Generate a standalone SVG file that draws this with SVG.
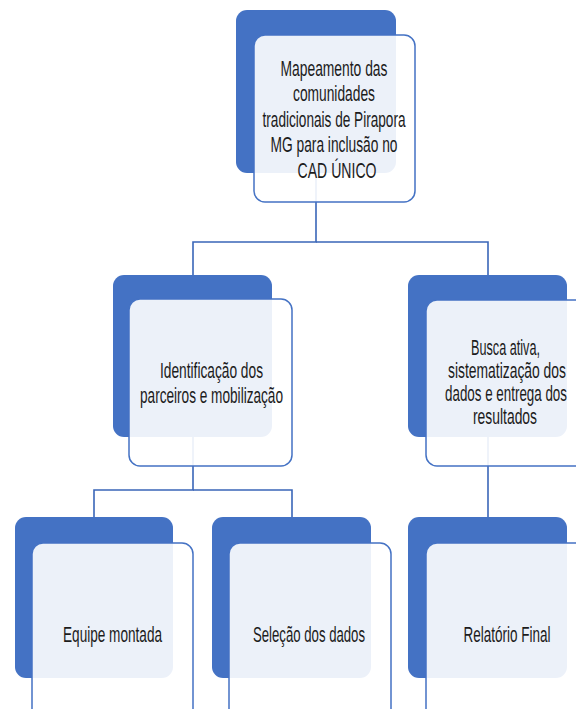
<svg xmlns="http://www.w3.org/2000/svg" width="576" height="709" viewBox="0 0 576 709">
<style>
.back{fill:#4472C4;}
.front{fill:#FFFFFF;fill-opacity:0.9;stroke:#4472C4;stroke-width:1.5;}
.conn{fill:none;stroke:#3A66B8;stroke-width:1.6;}
.t{font-family:"Liberation Sans",Arial,sans-serif;font-size:22px;fill:#1C1C1C;text-anchor:middle;}
</style>
<rect width="576" height="709" fill="#FFFFFF"/>
<g id="connectors">
<path class="conn" d="M316,173 V242 H193 V275"/>
<path class="conn" d="M316,242 H488 V275"/>
<path class="conn" d="M193,437 V490 H94 V517"/>
<path class="conn" d="M193,490 H292 V517"/>
<path class="conn" d="M488,437 V517"/>
</g>
<g id="n1">
<rect class="back" x="236" y="10" width="160" height="163" rx="11"/>
<rect class="front" x="254" y="35" width="161" height="167" rx="11"/>
<text class="t" x="334" y="76" textLength="107" lengthAdjust="spacingAndGlyphs">Mapeamento das</text>
<text class="t" x="334" y="101" textLength="82" lengthAdjust="spacingAndGlyphs">comunidades</text>
<text class="t" x="334" y="127" textLength="143" lengthAdjust="spacingAndGlyphs">tradicionais de Pirapora</text>
<text class="t" x="334" y="152" textLength="127" lengthAdjust="spacingAndGlyphs">MG para inclusão no</text>
<text class="t" x="337" y="178" textLength="79" lengthAdjust="spacingAndGlyphs">CAD ÚNICO</text>
</g>
<g id="n2">
<rect class="back" x="113" y="275" width="159" height="162" rx="11"/>
<rect class="front" x="129" y="299" width="163" height="167" rx="11"/>
<text class="t" x="211.5" y="378" textLength="103" lengthAdjust="spacingAndGlyphs">Identificação dos</text>
<text class="t" x="211.5" y="403" textLength="143" lengthAdjust="spacingAndGlyphs">parceiros e mobilização</text>
</g>
<g id="n3">
<rect class="back" x="408" y="275" width="159" height="162" rx="11"/>
<rect class="front" x="426" y="300" width="163" height="166" rx="11"/>
<text class="t" x="505.5" y="355" textLength="69" lengthAdjust="spacingAndGlyphs">Busca ativa,</text>
<text class="t" x="507" y="378" textLength="118" lengthAdjust="spacingAndGlyphs">sistematização dos</text>
<text class="t" x="506" y="401" textLength="122" lengthAdjust="spacingAndGlyphs">dados e entrega dos</text>
<text class="t" x="505" y="424" textLength="64" lengthAdjust="spacingAndGlyphs">resultados</text>
</g>
<g id="n4">
<rect class="back" x="15" y="517" width="158" height="161" rx="11"/>
<rect class="front" x="32" y="543" width="161" height="180" rx="11"/>
<text class="t" x="112.5" y="642" textLength="99" lengthAdjust="spacingAndGlyphs">Equipe montada</text>
</g>
<g id="n5">
<rect class="back" x="212" y="517" width="159" height="161" rx="11"/>
<rect class="front" x="229" y="543" width="162" height="180" rx="11"/>
<text class="t" x="309" y="642" textLength="112" lengthAdjust="spacingAndGlyphs">Seleção dos dados</text>
</g>
<g id="n6">
<rect class="back" x="408" y="517" width="159" height="161" rx="11"/>
<rect class="front" x="426" y="543" width="163" height="180" rx="11"/>
<text class="t" x="507" y="642" textLength="87" lengthAdjust="spacingAndGlyphs">Relatório Final</text>
</g>
</svg>
